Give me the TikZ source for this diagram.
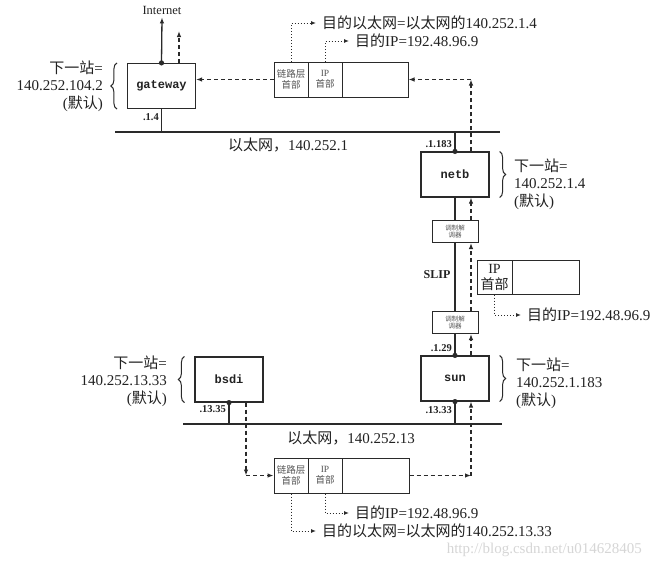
\documentclass[tikz,border=0pt]{standalone}
\usepackage{fontspec}
\setmainfont{Liberation Serif}
\newfontfamily\cjk{Noto Sans CJK SC}
\newfontfamily\monof{Liberation Mono}
\usetikzlibrary{arrows.meta,decorations.pathreplacing}
\newcommand{\zh}[1]{{\cjk #1}}
\definecolor{ln}{HTML}{2A2A2A}
\definecolor{txt}{HTML}{222222}
\definecolor{celltxt}{HTML}{555555}
\begin{document}
\begin{tikzpicture}[x=1pt,y=-1pt,
  every node/.style={text=txt},
  host/.style={draw=ln,line width=1.2pt,minimum width=68pt,minimum height=45pt,inner sep=0pt,font=\monof\bfseries\fontsize{12}{12}\selectfont},
  modem/.style={draw=ln,line width=1pt,minimum width=46pt,minimum height=22pt,inner sep=0pt,align=center,text=celltxt,font=\cjk\fontsize{6.5}{7.5}\selectfont},
  cell/.style={draw=ln,line width=1pt,minimum height=35pt,inner sep=0pt,align=center,text=celltxt,font=\fontsize{9.5}{11}\selectfont},
  bigcell/.style={draw=ln,line width=1pt,minimum height=34pt,inner sep=0pt,align=center,font=\fontsize{14}{16}\selectfont},
  ether/.style={draw=ln,line width=2.6pt},
  wire/.style={draw=ln,line width=1.3pt},
  tip/.style={-{Latex[length=6pt,width=4.5pt]}},
  dasharrow/.style={draw=ln,line width=1.1pt,dash pattern=on 4pt off 3pt,tip},
  dotarrow/.style={draw=ln,line width=1pt,dotted,-{Latex[length=5pt,width=4pt]},shorten >=6pt},
  lbl/.style={inner sep=0pt,font=\fontsize{15}{17.5}\selectfont},
  addr/.style={inner sep=0pt,anchor=east,font=\bfseries\fontsize{10.5}{11}\selectfont},
  brc/.style={draw=ln,line width=1pt,decorate,decoration={brace,amplitude=6pt}},
  dot/.style={fill=ln}
]
\useasboundingbox[fill=white] (0,0) rectangle (650,560);

% watermark
\node[anchor=east,inner sep=0pt,text=black!16,font=\fontsize{15}{15}\selectfont] (wm) at (642,550) {http://blog.csdn.net/u014628405};

% Ethernets
\coordinate (e1L) at (115,132); \coordinate (e1R) at (500,132);
\coordinate (e2L) at (183,424); \coordinate (e2R) at (502,424);
\draw[ether] (e1L) -- (e1R);
\draw[ether] (e2L) -- (e2R);
\node[lbl] (el1) at (288,145) {\zh{以太网，}140.252.1};
\node[lbl] (el2) at (351,438) {\zh{以太网，}140.252.13};

% hosts
\node[host] (gw) at (161.5,86) {gateway};
\node[host] (netb) at (455,174.5) {netb};
\node[host] (sun) at (455,378.5) {sun};
\node[host] (bsdi) at (229,379.5) {bsdi};
\node[modem] (m1) at (455,231.5) {\zh{调制解}\\\zh{调器}};
\node[modem] (m2) at (455,322.5) {\zh{调制解}\\\zh{调器}};

% Internet
\node[inner sep=0pt,font=\fontsize{12.5}{13}\selectfont] (inet) at (162,10) {Internet};
\draw[wire,tip] (gw.north) -- ([yshift=-3pt]inet.south);

% solid wires
\draw[wire] (gw.south) -- (gw.south |- e1L);
\draw[wire] (netb.north) -- (netb.north |- e1L);
\draw[wire] (netb.south) -- (m1.north);
\draw[wire] (m1.south) -- (m2.north);
\draw[wire] (m2.south) -- (sun.north);
\draw[wire] (sun.south) -- (sun.south |- e2L);
\draw[wire] (bsdi.south) -- (bsdi.south |- e2L);
\fill[dot] (gw.north) circle (2.6);
\fill[dot] (netb.north) circle (2.6);
\fill[dot] (sun.north) circle (2.6);
\fill[dot] (sun.south) circle (2.6);
\fill[dot] (bsdi.south) circle (2.6);

% interface addresses
\node[addr] (a1) at (159,117) {.1.4};
\node[addr] (a2) at (452,144) {.1.183};
\node[addr] (a3) at (452,348) {.1.29};
\node[addr] (a4) at (452,410) {.13.33};
\node[addr] (a5) at (226,409) {.13.35};
\node[inner sep=0pt,font=\bfseries\fontsize{12}{12}\selectfont] (slip) at (437,275) {SLIP};

% frames
\node[cell,minimum width=34pt] (tl) at (291,79.5) {\zh{链路层}\\\zh{首部}};
\node[cell,minimum width=34pt] (ti) at (325,79.5) {IP\\\zh{首部}};
\node[cell,minimum width=66pt] (td) at (375,79.5) {};
\node[cell,minimum width=34pt] (bl) at (291,475.5) {\zh{链路层}\\\zh{首部}};
\node[cell,minimum width=34pt] (bi) at (325,475.5) {IP\\\zh{首部}};
\node[cell,minimum width=67pt] (bd) at (375.5,475.5) {};
\node[bigcell,minimum width=35pt] (si) at (494.5,277) {IP\\\zh{首部}};
\node[bigcell,minimum width=67pt] (sd) at (545.5,277) {};

% dashed route
\coordinate (c1) at (246,475.5);
\coordinate (c2) at (471,475.5);
\coordinate (c3) at (471,79.5);
\coordinate (c4) at (179,31);
\draw[dasharrow] (bsdi.south -| c1) -- (c1);
\draw[dasharrow] (c1) -- (bl.west);
\draw[dasharrow] (bd.east) -- (c2);
\draw[dasharrow] (c2) -- (sun.south -| c2);
\draw[dasharrow] (sun.north -| c2) -- (m2.south -| c2);
\draw[dasharrow] (m2.north -| c2) -- (m1.south -| c2);
\draw[dasharrow] (m1.north -| c2) -- (netb.south -| c2);
\draw[dasharrow] (netb.north -| c3) -- (c3);
\draw[dasharrow] (c3) -- (td.east);
\draw[dasharrow] (tl.west) -- (tl.west -| gw.east);
\draw[dasharrow] (gw.north -| c4) -- (c4);

% annotations
\node[lbl,anchor=west] (tx1) at (322,23) {\zh{目的以太网}=\zh{以太网的}140.252.1.4};
\node[lbl,anchor=west] (tx2) at (355,41) {\zh{目的}IP=192.48.96.9};
\node[lbl,anchor=west] (tx3) at (527,315) {\zh{目的}IP=192.48.96.9};
\node[lbl,anchor=west] (tx5) at (355,513) {\zh{目的}IP=192.48.96.9};
\node[lbl,anchor=west] (tx4) at (322,531) {\zh{目的以太网}=\zh{以太网的}140.252.13.33};
\draw[dotarrow] (tl.north) |- (tx1.west);
\draw[dotarrow] (ti.north) |- (tx2.west);
\draw[dotarrow] (si.south) |- (tx3.west);
\draw[dotarrow] (bi.south) |- (tx5.west);
\draw[dotarrow] (bl.south) |- (tx4.west);

% next-hop notes
\node[lbl,anchor=east,align=right] (ngw) at (103,86) {\zh{下一站}=\\140.252.104.2\\(\zh{默认})};
\node[lbl,anchor=east,align=right] (nbs) at (167,381) {\zh{下一站}=\\140.252.13.33\\(\zh{默认})};
\node[lbl,anchor=west,align=left] (nnb) at (514,184) {\zh{下一站}=\\140.252.1.4\\(\zh{默认})};
\node[lbl,anchor=west,align=left] (nsn) at (516,383) {\zh{下一站}=\\140.252.1.183\\(\zh{默认})};
\draw[brc] ([xshift=-10pt]gw.south west) -- ([xshift=-10pt]gw.north west);
\draw[brc] ([xshift=-10pt]bsdi.south west) -- ([xshift=-10pt]bsdi.north west);
\draw[brc] ([xshift=10pt]netb.north east) -- ([xshift=10pt]netb.south east);
\draw[brc] ([xshift=10pt]sun.north east) -- ([xshift=10pt]sun.south east);
\end{tikzpicture}
\end{document}
